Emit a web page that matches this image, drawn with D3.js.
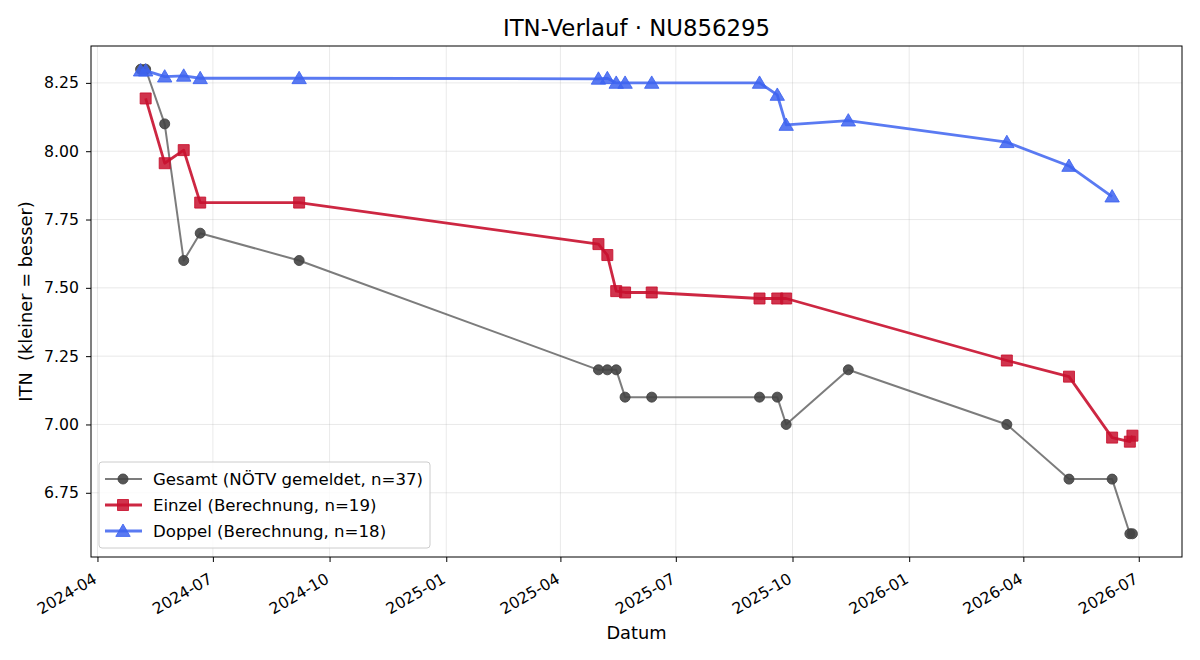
<!DOCTYPE html>
<html>
<head>
<meta charset="utf-8">
<script src="https://cdn.jsdelivr.net/npm/d3@7"></script>
<style>
  body { margin: 0; background: #fff; }
  svg { font-family: "DejaVu Sans", sans-serif; }
</style>
</head>
<body>
<svg id="chart" width="1200" height="660"></svg>
<script>
// ─── DATA ───
const gesamtDates = ['2024-05-05','2024-05-09','2024-05-24','2024-06-08','2024-06-21','2024-09-07',
  '2025-05-01','2025-05-08','2025-05-15','2025-05-22','2025-06-12','2025-09-05','2025-09-19','2025-09-26',
  '2025-11-14','2026-03-19','2026-05-07','2026-06-10','2026-06-24','2026-06-26'];
const gesamtValues = [8.30, 8.30, 8.10, 7.60, 7.70, 7.60,
  7.20, 7.20, 7.20, 7.10, 7.10, 7.10, 7.10, 7.00,
  7.20, 7.00, 6.80, 6.80, 6.60, 6.60];

const einzelDates = ['2024-05-09','2024-05-24','2024-06-08','2024-06-21','2024-09-07',
  '2025-05-01','2025-05-08','2025-05-15','2025-05-22','2025-06-12','2025-09-05','2025-09-19','2025-09-26',
  '2026-03-19','2026-05-07','2026-06-10','2026-06-24','2026-06-26'];
const einzelValues = [8.193, 7.956, 8.004, 7.812, 7.812,
  7.66, 7.62, 7.488, 7.483, 7.483, 7.461, 7.461, 7.461,
  7.234, 7.175, 6.952, 6.937, 6.959];

const doppelDates = ['2024-05-05','2024-05-09','2024-05-24','2024-06-08','2024-06-21','2024-09-07',
  '2025-05-01','2025-05-08','2025-05-15','2025-05-22','2025-06-12','2025-09-05','2025-09-19','2025-09-26',
  '2025-11-14','2026-03-19','2026-05-07','2026-06-10'];
const doppelValues = [8.295, 8.295, 8.273, 8.276, 8.267, 8.267,
  8.265, 8.267, 8.25, 8.25, 8.25, 8.25, 8.206, 8.096,
  8.112, 8.033, 7.946, 7.834];

const yTicks = [6.75, 7.00, 7.25, 7.50, 7.75, 8.00, 8.25];
const xTickDates = ['2024-04-01','2024-07-01','2024-10-01','2025-01-01','2025-04-01','2025-07-01',
  '2025-10-01','2026-01-01','2026-04-01','2026-07-01'];

const parse = d3.timeParse('%Y-%m-%d');
const toPts = (dates, vals) => dates.map((d, i) => ({ t: parse(d), v: vals[i] }));

const SERIES = [
  { label: 'Gesamt (NÖTV gemeldet, n=37)', pts: toPts(gesamtDates, gesamtValues),
    color: '#444', lineOpacity: 0.7, lw: 2, marker: 'circle', mOpacity: 0.9, size: 10 },
  { label: 'Einzel (Berechnung, n=19)', pts: toPts(einzelDates, einzelValues),
    color: '#c8102e', lineOpacity: 0.9, lw: 2.8, marker: 'square', mOpacity: 0.85, size: 11 },
  { label: 'Doppel (Berechnung, n=18)', pts: toPts(doppelDates, doppelValues),
    color: '#3d63f0', lineOpacity: 0.85, lw: 2.8, marker: 'triangle', mOpacity: 0.85, size: 12 }
];

// ─── SETUP ───
const m = { top: 46, right: 18, bottom: 103, left: 91 };
const W = 1200, H = 660;
const w = W - m.left - m.right;
const h = H - m.top - m.bottom;
const FONT = '"DejaVu Sans", sans-serif';
const TICK_FONT = '15.7px';

const svg = d3.select('#chart');
const g = svg.append('g').attr('transform', `translate(${m.left},${m.top})`);

// matplotlib-style 5% margins around the data extent
const allPts = SERIES.flatMap(s => s.pts);
const [t0, t1] = d3.extent(allPts, d => d.t);
const [v0, v1] = d3.extent(allPts, d => d.v);
const tPad = (t1 - t0) * 0.05, vPad = (v1 - v0) * 0.05;
const xScale = d3.scaleTime().domain([new Date(+t0 - tPad), new Date(+t1 + tPad)]).range([0, w]);
const yScale = d3.scaleLinear().domain([v0 - vPad, v1 + vPad]).range([h, 0]);

// grid
g.append('g').selectAll('line').data(xTickDates.map(parse)).enter().append('line')
  .attr('x1', d => xScale(d)).attr('x2', d => xScale(d)).attr('y1', 0).attr('y2', h)
  .attr('stroke', '#b0b0b0').attr('stroke-opacity', 0.35).attr('stroke-width', 0.8);
g.append('g').selectAll('line').data(yTicks).enter().append('line')
  .attr('x1', 0).attr('x2', w).attr('y1', d => yScale(d)).attr('y2', d => yScale(d))
  .attr('stroke', '#b0b0b0').attr('stroke-opacity', 0.35).attr('stroke-width', 0.8);

// axes
const xAxis = g.append('g').attr('transform', `translate(0,${h})`)
  .call(d3.axisBottom(xScale).tickValues(xTickDates.map(parse)).tickFormat(d3.timeFormat('%Y-%m')).tickSizeOuter(0).tickSize(5))
  .attr('font-family', FONT);
xAxis.select('.domain').remove();
xAxis.selectAll('text')
  .attr('font-size', TICK_FONT).attr('fill', '#000')
  .attr('text-anchor', 'end')
  .attr('x', 0).attr('y', 0).attr('dy', 0)
  .attr('transform', 'translate(0,25) rotate(-30)');
xAxis.selectAll('line').attr('stroke', '#000');

const yAxis = g.append('g')
  .call(d3.axisLeft(yScale).tickValues(yTicks).tickFormat(d3.format('.2f')).tickSizeOuter(0).tickSize(5))
  .attr('font-family', FONT);
yAxis.select('.domain').remove();
yAxis.selectAll('text').attr('font-size', TICK_FONT).attr('fill', '#000').attr('x', -12);
yAxis.selectAll('line').attr('stroke', '#000');

// frame
g.append('rect').attr('width', w).attr('height', h).attr('fill', 'none').attr('stroke', '#000').attr('stroke-width', 1);

// series
const markerPath = (type, size) => {
  if (type === 'circle') return d3.symbol().type(d3.symbolCircle).size(Math.PI * (size / 2) ** 2)();
  if (type === 'square') return d3.symbol().type(d3.symbolSquare).size(size * size)();
  return `M0,${-size * 0.58}L${size * 0.6},${size * 0.45}L${-size * 0.6},${size * 0.45}Z`;
};

SERIES.forEach(s => {
  const line = d3.line().x(d => xScale(d.t)).y(d => yScale(d.v));
  g.append('path').datum(s.pts).attr('d', line)
    .attr('fill', 'none').attr('stroke', s.color).attr('stroke-opacity', s.lineOpacity)
    .attr('stroke-width', s.lw).attr('stroke-linejoin', 'round');
  g.append('g').selectAll('path').data(s.pts).enter().append('path')
    .attr('d', markerPath(s.marker, s.size))
    .attr('transform', d => `translate(${xScale(d.t)},${yScale(d.v)})`)
    .attr('fill', s.color).attr('fill-opacity', s.mOpacity)
    .attr('stroke', s.color).attr('stroke-opacity', s.mOpacity).attr('stroke-width', 1);
});

// title & labels
svg.append('text').attr('x', m.left + w / 2).attr('y', 35.5).attr('text-anchor', 'middle')
  .attr('font-size', '22.8px').text('ITN-Verlauf · NU856295');
svg.append('text').attr('x', m.left + w / 2).attr('y', 639).attr('text-anchor', 'middle')
  .attr('font-size', '17.8px').text('Datum');
svg.append('text').attr('transform', `translate(32,${m.top + h / 2}) rotate(-90)`).attr('text-anchor', 'middle')
  .attr('font-size', '17.8px').attr('xml:space', 'preserve').text('ITN  (kleiner = besser)');

// legend
const lg = g.append('g').attr('transform', `translate(8,${h - 95})`);
lg.append('rect').attr('width', 331).attr('height', 86).attr('rx', 3)
  .attr('fill', '#fff').attr('fill-opacity', 0.8).attr('stroke', '#ccc');
SERIES.forEach((s, i) => {
  const yy = 17 + i * 26;
  lg.append('line').attr('x1', 6).attr('x2', 43).attr('y1', yy).attr('y2', yy)
    .attr('stroke', s.color).attr('stroke-opacity', s.lineOpacity).attr('stroke-width', s.lw);
  lg.append('path').attr('d', markerPath(s.marker, s.size)).attr('transform', `translate(24,${yy})`)
    .attr('fill', s.color).attr('fill-opacity', s.mOpacity).attr('stroke', s.color).attr('stroke-opacity', s.mOpacity);
  lg.append('text').attr('x', 54).attr('y', yy).attr('dy', '0.35em').attr('font-size', '16.6px').text(s.label);
});
</script>
</body>
</html>
